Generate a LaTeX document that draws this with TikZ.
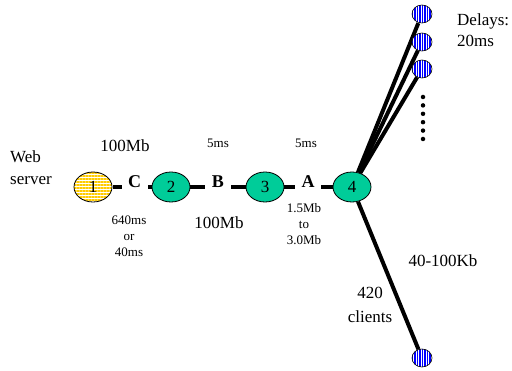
\documentclass[tikz,border=0pt]{standalone}
\usepackage{fontspec}
\setmainfont{Liberation Serif}
\usetikzlibrary{shapes.geometric,patterns.meta,backgrounds}
\definecolor{nodegreen}{RGB}{0,204,153}
\definecolor{srvyellow}{RGB}{255,204,0}
\definecolor{cliblue}{RGB}{0,0,255}
\begin{document}
\begin{tikzpicture}[x=1pt,y=-1pt,
 router/.style={ellipse,draw=black,line width=0.8pt,fill=nodegreen,minimum width=38pt,minimum height=30pt,inner sep=0pt,font=\fontsize{17}{20}\selectfont},
 server/.style={ellipse,draw=black,line width=0.8pt,minimum width=38pt,minimum height=30pt,inner sep=0pt,font=\fontsize{17}{20}\selectfont,
   preaction={fill=white}, pattern={Lines[angle=0,distance=3pt,line width=1.8pt]}, pattern color=srvyellow},
 client/.style={ellipse,draw=black,line width=0.6pt,minimum width=20pt,minimum height=18pt,inner sep=0pt,
   preaction={fill=white}, pattern={Lines[angle=90,distance=2.5pt,line width=1.4pt]}, pattern color=cliblue},
 link/.style={line width=4pt},
 linklabel/.style={fill=white,inner sep=0pt,minimum width=26pt,minimum height=18pt,font=\bfseries\fontsize{18}{20}\selectfont},
 big/.style={inner sep=0pt,font=\fontsize{17}{22}\selectfont},
 small/.style={inner sep=0pt,font=\fontsize{13}{16}\selectfont},
 dot/.style={circle,fill=black,inner sep=0pt,minimum size=4.5pt}
]
\useasboundingbox (0,0) rectangle (512,371);

% routers
\node[server] (n1) at (93,187) {1};
\node[router] (n2) at (171,187) {2};
\node[router] (n3) at (265,187) {3};
\node[router] (n4) at (352,187) {4};

% link labels
\node[linklabel] (C) at (134.5,182) {C};
\node[linklabel] (B) at (218,182) {B};
\node[linklabel] (A) at (308,182) {A};

% clients
\node[client] (c1) at (422,14) {};
\node[client] (c2) at (422,42) {};
\node[client] (c3) at (422,69) {};
\node[client] (c4) at (422,358) {};

% dots
\foreach \k in {0,...,5}{
  \node[dot] (d\k) at (423,{97+8.4*\k}) {};
}

% links
\begin{scope}[on background layer]
  \draw[link] (n1) -- (n2);
  \draw[link] (n2) -- (n3);
  \draw[link] (n3) -- (n4);
  \draw[link] (n4) -- (c1);
  \draw[link] (n4) -- (c2);
  \draw[link] (n4) -- (c3);
  \draw[link] (n4) -- (c4);
\end{scope}

% texts
\node[big,align=left,anchor=west] (web) at (10,168) {Web\\server};
\node[big] (bw1) at (125,146) {100Mb};
\node[small] (d1) at (218,143) {5ms};
\node[small] (d2) at (306,143) {5ms};
\node[small,align=center] (dc) at (129,236) {640ms\\or\\40ms};
\node[big] (bw2) at (219,223) {100Mb};
\node[small,align=center] (bwa) at (304,224) {1.5Mb\\to\\3.0Mb};
\node[big] (bwc) at (443,261) {40-100Kb};
\node[big,align=center,font=\fontsize{17}{24}\selectfont] (cl) at (370,304.5) {420\\clients};
\node[big,align=left,anchor=west,font=\fontsize{17}{21}\selectfont] (dl) at (457,30.5) {Delays:\\20ms};
\end{tikzpicture}
\end{document}
